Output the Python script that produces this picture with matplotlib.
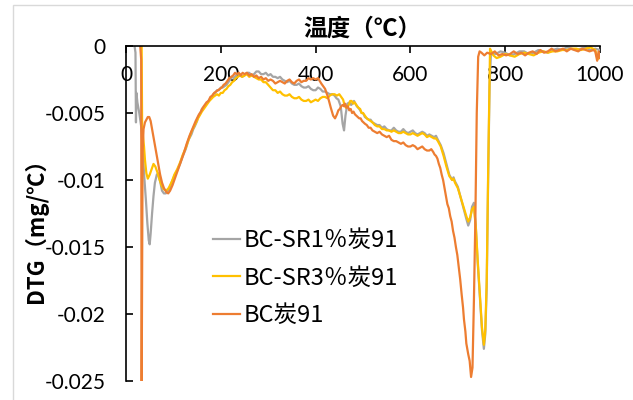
import numpy as np
import matplotlib
matplotlib.use("Agg")
import matplotlib.pyplot as plt
from matplotlib.patches import Rectangle

plt.rcParams['font.family'] = ['Lato', 'Noto Sans CJK SC', 'DejaVu Sans']
plt.rcParams['axes.unicode_minus'] = False
cjk = ['Noto Sans CJK SC', 'DejaVu Sans']

# (temperature, DTG)
sr1_points = [
    (18, 0.0), (20, -0.0005), (21, -0.0057), (22, -0.0035), (24, -0.0042), (26, -0.0046),
    (28, -0.0050), (30, -0.0055), (32, -0.0060), (34, -0.0070), (36, -0.0083), (39, -0.0100),
    (42, -0.0115), (45, -0.0132), (48, -0.0145), (50, -0.0148), (52, -0.0140), (55, -0.0125),
    (58, -0.0112), (61, -0.0102), (65, -0.0096), (68, -0.0095), (72, -0.0101), (76, -0.0108),
    (80, -0.0110), (84, -0.0110), (88, -0.0108), (92, -0.0106), (97, -0.0101), (102, -0.0097),
    (108, -0.0093), (114, -0.0088), (120, -0.0082), (126, -0.0077), (132, -0.0070), (138, -0.0066),
    (142, -0.0062), (145, -0.0060), (150, -0.0056), (152, -0.0053), (156, -0.0051), (160, -0.0047),
    (164, -0.0046), (168, -0.0044), (172, -0.0042), (176, -0.0040), (180, -0.0039), (184, -0.0036),
    (188, -0.0035), (192, -0.0033), (196, -0.0033), (200, -0.0031), (204, -0.0031), (208, -0.0030),
    (212, -0.0029), (216, -0.0027), (220, -0.0025), (224, -0.0023), (228, -0.0024), (232, -0.0022),
    (236, -0.0021), (240, -0.0021), (245, -0.0023), (250, -0.0022), (255, -0.0020), (260, -0.0020),
    (265, -0.0022), (270, -0.0021), (275, -0.0019), (280, -0.0019), (285, -0.0021), (290, -0.0021),
    (295, -0.0020), (300, -0.0022), (305, -0.0021), (310, -0.0023), (315, -0.0023), (320, -0.0024),
    (325, -0.0023), (330, -0.0025), (335, -0.0026), (340, -0.0027), (345, -0.0026), (350, -0.0028),
    (355, -0.0029), (360, -0.0029), (365, -0.0028), (370, -0.0030), (375, -0.0031), (380, -0.0031),
    (385, -0.0030), (390, -0.0032), (395, -0.0033), (400, -0.0033), (405, -0.0031), (410, -0.0032),
    (415, -0.0034), (420, -0.0034), (425, -0.0035), (430, -0.0036), (435, -0.0036), (440, -0.0037),
    (444, -0.0039), (448, -0.0040), (453, -0.0045), (457, -0.0058), (460, -0.0063), (463, -0.0052),
    (467, -0.0043), (472, -0.0042), (475, -0.0044), (478, -0.0043), (481, -0.0041), (484, -0.0043),
    (487, -0.0045), (490, -0.0046), (494, -0.0048), (497, -0.0050), (500, -0.0050), (504, -0.0053),
    (508, -0.0054), (512, -0.0055), (516, -0.0055), (520, -0.0057), (525, -0.0058), (530, -0.0059),
    (535, -0.0059), (540, -0.0061), (545, -0.0060), (550, -0.0062), (555, -0.0063), (560, -0.0063),
    (565, -0.0061), (570, -0.0063), (575, -0.0064), (580, -0.0064), (585, -0.0062), (590, -0.0064),
    (595, -0.0065), (600, -0.0064), (605, -0.0063), (610, -0.0065), (615, -0.0066), (620, -0.0065),
    (625, -0.0064), (630, -0.0065), (635, -0.0067), (640, -0.0066), (645, -0.0067), (650, -0.0068),
    (654, -0.0067), (658, -0.0070), (664, -0.0074), (670, -0.0080), (676, -0.0088), (682, -0.0096),
    (688, -0.0100), (691, -0.0098), (694, -0.0101), (700, -0.0105), (706, -0.0113), (712, -0.0121),
    (718, -0.0129), (722, -0.0134), (726, -0.0130), (730, -0.0120), (734, -0.0117), (738, -0.0135),
    (742, -0.0162), (747, -0.0190), (751, -0.0212), (755, -0.0226), (758, -0.0215), (761, -0.0180),
    (764, -0.0100), (767, -0.0030), (770, -0.0005), (780, -0.0006), (790, -0.0004), (800, -0.0005),
    (810, -0.0007), (820, -0.0006), (830, -0.0004), (840, -0.0004), (850, -0.0006), (860, -0.0005),
    (870, -0.0003), (880, -0.0004), (890, -0.0005), (900, -0.0003), (910, -0.0002), (920, -0.0003),
    (930, -0.0001), (940, -0.0002), (950, -0.0003), (960, -0.0002), (970, -0.0001), (980, -0.0003),
    (990, -0.0002), (1000, -0.0003),
]

sr3_points = [
    (33, 0.0), (34, -0.0060), (36, -0.0068), (38, -0.0075), (40, -0.0085), (43, -0.0095),
    (46, -0.0099), (50, -0.0096), (54, -0.0092), (58, -0.0088), (62, -0.0090), (66, -0.0094),
    (70, -0.0099), (75, -0.0104), (80, -0.0107), (85, -0.0108), (90, -0.0106), (97, -0.0101),
    (102, -0.0096), (108, -0.0092), (114, -0.0087), (120, -0.0081), (126, -0.0076), (132, -0.0070),
    (138, -0.0064), (145, -0.0059), (152, -0.0054), (160, -0.0049), (168, -0.0045), (176, -0.0041),
    (184, -0.0038), (192, -0.0036), (196, -0.0037), (200, -0.0035), (204, -0.0035), (208, -0.0033),
    (212, -0.0032), (216, -0.0030), (220, -0.0029), (224, -0.0027), (228, -0.0026), (232, -0.0024),
    (236, -0.0023), (240, -0.0022), (245, -0.0023), (250, -0.0022), (255, -0.0021), (260, -0.0023),
    (265, -0.0022), (270, -0.0023), (275, -0.0024), (280, -0.0025), (285, -0.0025), (290, -0.0027),
    (295, -0.0027), (300, -0.0029), (305, -0.0031), (310, -0.0033), (315, -0.0033), (320, -0.0035),
    (325, -0.0034), (330, -0.0036), (335, -0.0037), (340, -0.0037), (345, -0.0036), (350, -0.0038),
    (355, -0.0039), (360, -0.0039), (365, -0.0038), (370, -0.0040), (375, -0.0041), (380, -0.0041),
    (385, -0.0040), (390, -0.0042), (395, -0.0041), (400, -0.0040), (405, -0.0041), (410, -0.0039),
    (415, -0.0038), (420, -0.0038), (425, -0.0039), (430, -0.0037), (435, -0.0036), (440, -0.0036),
    (445, -0.0037), (450, -0.0036), (454, -0.0038), (458, -0.0040), (461, -0.0044), (464, -0.0046),
    (467, -0.0045), (470, -0.0044), (473, -0.0041), (476, -0.0041), (479, -0.0043), (482, -0.0042),
    (486, -0.0044), (490, -0.0046), (494, -0.0047), (497, -0.0050), (500, -0.0050), (504, -0.0052),
    (508, -0.0054), (512, -0.0055), (516, -0.0056), (520, -0.0057), (525, -0.0059), (530, -0.0060),
    (535, -0.0060), (540, -0.0062), (545, -0.0062), (550, -0.0063), (555, -0.0063), (560, -0.0064),
    (565, -0.0063), (570, -0.0064), (575, -0.0065), (580, -0.0065), (585, -0.0064), (590, -0.0065),
    (595, -0.0066), (600, -0.0066), (605, -0.0065), (610, -0.0066), (615, -0.0067), (620, -0.0066),
    (625, -0.0065), (630, -0.0066), (635, -0.0068), (640, -0.0067), (645, -0.0068), (650, -0.0069),
    (654, -0.0069), (658, -0.0071), (664, -0.0075), (670, -0.0082), (676, -0.0090), (682, -0.0097),
    (688, -0.0100), (691, -0.0099), (694, -0.0102), (700, -0.0106), (706, -0.0113), (712, -0.0120),
    (718, -0.0127), (722, -0.0131), (726, -0.0128), (730, -0.0122), (734, -0.0120), (738, -0.0135),
    (742, -0.0160), (747, -0.0188), (751, -0.0210), (755, -0.0223), (758, -0.0212), (761, -0.0175),
    (764, -0.0095), (768, -0.0002), (775, -0.0007), (782, -0.0009), (790, -0.0008), (800, -0.0006),
    (810, -0.0007), (820, -0.0008), (830, -0.0006), (840, -0.0005), (850, -0.0006), (860, -0.0007),
    (870, -0.0005), (880, -0.0004), (890, -0.0005), (900, -0.0004), (910, -0.0004), (920, -0.0003),
    (930, -0.0003), (940, -0.0002), (950, -0.0002), (960, -0.0003), (970, -0.0002), (980, -0.0001),
    (990, -0.0003), (995, -0.0010), (998, -0.0008), (1000, -0.0006),
]

bc_points = [
    (30, 0.0), (32, -0.0010), (33, -0.0260), (35, -0.0080), (37, -0.0062), (40, -0.0057),
    (43, -0.0055), (46, -0.0053), (49, -0.0053), (52, -0.0056), (56, -0.0064), (60, -0.0072),
    (64, -0.0080), (68, -0.0088), (72, -0.0096), (76, -0.0102), (80, -0.0106), (85, -0.0109),
    (89, -0.0110), (93, -0.0108), (98, -0.0104), (104, -0.0098), (110, -0.0092), (116, -0.0086),
    (122, -0.0080), (128, -0.0073), (134, -0.0067), (140, -0.0062), (147, -0.0056), (154, -0.0051),
    (158, -0.0049), (162, -0.0046), (166, -0.0044), (170, -0.0042), (174, -0.0041), (178, -0.0038),
    (182, -0.0037), (186, -0.0035), (190, -0.0034), (194, -0.0033), (198, -0.0032), (202, -0.0031),
    (206, -0.0029), (210, -0.0028), (214, -0.0026), (218, -0.0024), (222, -0.0023), (226, -0.0022),
    (230, -0.0020), (234, -0.0021), (238, -0.0020), (242, -0.0022), (246, -0.0020), (250, -0.0021),
    (255, -0.0020), (260, -0.0022), (265, -0.0021), (270, -0.0023), (275, -0.0022), (280, -0.0024),
    (285, -0.0023), (290, -0.0025), (295, -0.0024), (300, -0.0026), (305, -0.0025), (310, -0.0026),
    (315, -0.0028), (320, -0.0027), (325, -0.0026), (330, -0.0027), (335, -0.0028), (340, -0.0026),
    (345, -0.0025), (350, -0.0027), (355, -0.0028), (360, -0.0026), (365, -0.0025), (370, -0.0027),
    (375, -0.0026), (380, -0.0026), (385, -0.0024), (390, -0.0025), (395, -0.0024), (400, -0.0025),
    (405, -0.0024), (412, -0.0028), (420, -0.0032), (426, -0.0038), (432, -0.0046), (437, -0.0052),
    (441, -0.0054), (445, -0.0051), (448, -0.0048), (451, -0.0047), (454, -0.0045), (457, -0.0044),
    (460, -0.0045), (462, -0.0043), (465, -0.0046), (468, -0.0045), (471, -0.0048), (474, -0.0047),
    (477, -0.0050), (480, -0.0049), (483, -0.0051), (486, -0.0052), (489, -0.0053), (492, -0.0054),
    (495, -0.0054), (498, -0.0056), (501, -0.0057), (504, -0.0058), (508, -0.0059), (512, -0.0061),
    (516, -0.0061), (520, -0.0063), (525, -0.0064), (530, -0.0065), (535, -0.0064), (540, -0.0066),
    (545, -0.0067), (550, -0.0068), (555, -0.0067), (560, -0.0070), (565, -0.0071), (570, -0.0071),
    (575, -0.0072), (580, -0.0073), (585, -0.0072), (590, -0.0074), (595, -0.0075), (600, -0.0075),
    (605, -0.0074), (610, -0.0075), (615, -0.0077), (620, -0.0076), (625, -0.0075), (630, -0.0077),
    (635, -0.0078), (640, -0.0078), (644, -0.0077), (648, -0.0079), (651, -0.0081), (654, -0.0082),
    (657, -0.0084), (660, -0.0088), (663, -0.0091), (666, -0.0096), (669, -0.0100), (672, -0.0106),
    (675, -0.0112), (678, -0.0118), (681, -0.0121), (684, -0.0127), (687, -0.0131), (690, -0.0138),
    (693, -0.0143), (696, -0.0150), (699, -0.0156), (702, -0.0165), (705, -0.0174), (708, -0.0185),
    (711, -0.0195), (713, -0.0204), (716, -0.0213), (718, -0.0222), (722, -0.0230), (725, -0.0235),
    (728, -0.0247), (731, -0.0240), (734, -0.0190), (737, -0.0130), (740, -0.0050), (743, -0.0008),
    (746, -0.0004), (750, -0.0005), (756, -0.0007), (762, -0.0005), (770, -0.0006), (778, -0.0004),
    (786, -0.0007), (794, -0.0006), (802, -0.0007), (810, -0.0006), (818, -0.0004), (826, -0.0006),
    (834, -0.0005), (842, -0.0007), (850, -0.0005), (858, -0.0004), (866, -0.0006), (874, -0.0003),
    (882, -0.0005), (890, -0.0004), (898, -0.0002), (906, -0.0004), (914, -0.0003), (922, -0.0002),
    (930, -0.0004), (938, -0.0002), (946, -0.0003), (954, -0.0004), (962, -0.0002), (970, -0.0003),
    (978, -0.0004), (986, -0.0003), (990, -0.0004), (994, -0.0011), (997, -0.0004), (1000, -0.0009),
]

labels = ['BC-SR1％炭91', 'BC-SR3％炭91', 'BC炭91']
colors = ['#A5A5A5', '#FFC000', '#ED7D31']
yticks = [0, -0.005, -0.01, -0.015, -0.02, -0.025]
ytick_labels = ['0', '-0.005', '-0.01', '-0.015', '-0.02', '-0.025']
xticks = [0, 200, 400, 600, 800, 1000]

fig = plt.figure(figsize=(6.33, 4.0), dpi=100)
ax = fig.add_axes([126/633, 1 - 381/400, 474/633, 335/400])

for pts, lab, c in zip([sr1_points, sr3_points, bc_points], labels, colors):
    t, d = zip(*pts)
    ax.plot(t, d, color=c, lw=1.6, label=lab)

ax.set_xlim(0, 1000)
ax.set_ylim(-0.025, 0)
ax.spines['top'].set_visible(False)
ax.spines['right'].set_visible(False)
ax.spines['bottom'].set_position(('data', 0))
for s in ['bottom', 'left']:
    ax.spines[s].set_linewidth(1.2)
ax.set_xticks(xticks)
ax.set_yticks(yticks)
ax.set_yticklabels(ytick_labels)
ax.tick_params(axis='x', direction='out', length=5, width=1.2, pad=9, labelsize=15)
ax.tick_params(axis='y', direction='in', length=5, width=1.2, pad=14.5, labelsize=15)

fig.text(362/633, 1 - 29/400, '温度（℃）', ha='center', va='center', fontsize=17,
         fontweight='bold', family=cjk)
fig.text(36/633, 1 - 225/400, 'DTG（mg/℃）', ha='center', va='center', rotation=90,
         fontsize=16, fontweight='bold', family=cjk)

ax.legend(loc='center left', bbox_to_anchor=(213/633, 1 - 278/400), bbox_transform=fig.transFigure,
          frameon=False, prop={'family': cjk, 'size': 17}, handlelength=1.15, handletextpad=0.15,
          labelspacing=0.62, borderpad=0, borderaxespad=0)

fig.patches.append(Rectangle((13/633, -0.05), 0.99, 1 - 5/400 + 0.05, transform=fig.transFigure,
                             fill=False, edgecolor='#D9D9D9', lw=1.0))

fig.savefig('out.png', dpi=100)
